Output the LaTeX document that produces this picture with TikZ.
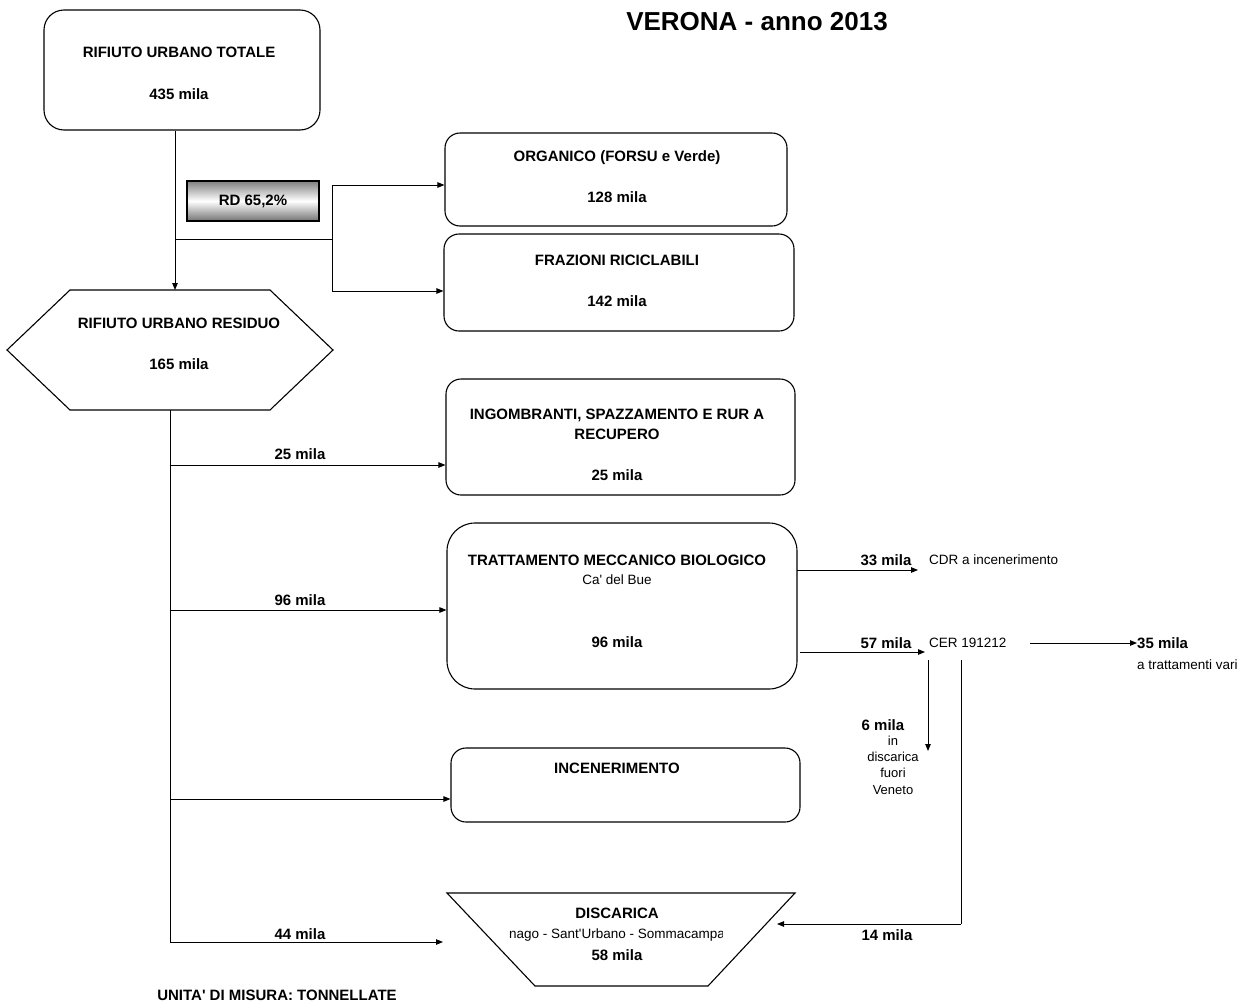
\documentclass[tikz,border=0pt]{standalone}
\usepackage{fontspec}
\setmainfont{Liberation Sans}[Ligatures=TeXOff]
\usetikzlibrary{arrows.meta,calc}
\begin{document}
\begin{tikzpicture}[x=1pt,y=-1pt,
 box/.style={draw,line width=1.1pt,rounded corners=#1,inner sep=0pt},
 box/.default=15pt,
 bt/.style={font=\fontsize{15}{18}\selectfont\bfseries,inner sep=0pt,anchor=center},
 st/.style={font=\fontsize{13.5}{16}\selectfont,inner sep=0pt},
 ln/.style={line width=0.9pt},
 arr/.style={ln,-{Triangle[length=7pt,width=5.5pt]}}]
\useasboundingbox (0,0) rectangle (1250,1007);

% title
\node[font=\fontsize{26}{30}\selectfont\bfseries,inner sep=0pt] (title) at (757,22) {VERONA - anno 2013};

% total
\node[box=20pt,minimum width=276pt,minimum height=120pt] (tot) at (182,70) {};
\node[bt] (totA) at (179,52) {RIFIUTO URBANO TOTALE};
\node[bt] (totB) at (179,94) {435 mila};

% RD box
\node[draw,line width=2pt,top color=black!50,bottom color=black!55,middle color=white,
      minimum width=132pt,minimum height=40pt,inner sep=0pt,font=\fontsize{15}{18}\selectfont\bfseries] (rd) at (253,201) {RD 65,2\%};

% organico / frazioni
\node[box,minimum width=342pt,minimum height=93pt] (org) at (616,179.5) {};
\node[bt] (orgA) at (617,158) {ORGANICO (FORSU e Verde)};
\node[bt] (orgB) at (617,197) {128 mila};
\node[box,minimum width=350pt,minimum height=97pt] (fra) at (619,282.5) {};
\node[bt] (fraA) at (617,260) {FRAZIONI RICICLABILI};
\node[bt] (fraB) at (617,301) {142 mila};

% hexagon residuo
\coordinate (hextop) at (175,290);
\coordinate (hexbot) at (170,410);
\draw[line width=1.1pt] (7,350) -- (70,290) -- (270,290) -- (333,350) -- (270,410) -- (70,410) -- cycle;
\node[bt] (resA) at (179,323) {RIFIUTO URBANO RESIDUO};
\node[bt] (resB) at (179,364) {165 mila};

% connectors top
\draw[arr] (tot.south -| hextop) -- (hextop);
\coordinate (j1) at (175,239);
\coordinate (j2) at (332,239);
\coordinate (b1) at (332,185);
\coordinate (b2) at (332,291);
\draw[ln] (j1) -- (j2);
\draw[ln] (b1) -- (b2);
\draw[arr] (b1) -- (org.west |- b1);
\draw[arr] (b2) -- (fra.west |- b2);

% ingombranti
\node[box,minimum width=349pt,minimum height=116pt] (ing) at (620.5,437) {};
\node[bt,align=center,font=\fontsize{15}{20}\selectfont\bfseries] (ingA) at (617,424) {INGOMBRANTI, SPAZZAMENTO E RUR A\\RECUPERO};
\node[bt] (ingB) at (617,475) {25 mila};

% TMB
\node[box=28pt,minimum width=350pt,minimum height=166pt] (tmb) at (622,606) {};
\node[bt] (tmbA) at (617,560) {TRATTAMENTO MECCANICO BIOLOGICO};
\node[st] (tmbB) at (617,580) {Ca' del Bue};
\node[bt] (tmbC) at (617,642) {96 mila};

% incenerimento
\node[box,minimum width=349pt,minimum height=74pt] (inc) at (625.5,785) {};
\node[bt] (incA) at (617,768) {INCENERIMENTO};

% discarica
\draw[line width=1.1pt] (447,893) -- (795,893) -- (708,986) -- (535,986) -- cycle;
\coordinate (discL) at (443,942);
\coordinate (discR) at (777,924);
\node[bt] (discA) at (617,913) {DISCARICA};
\begin{scope}
\clip (509,925) rectangle (722,946);
\node[st] (discB) at (617,935) {Legnago - Sant'Urbano - Sommacampagna};
\end{scope}
\node[bt] (discC) at (617,955) {58 mila};

% trunk and branches
\coordinate (tend) at (170,942);
\draw[ln] (hexbot) -- (tend);
\coordinate (r1) at (170,465);
\coordinate (r2) at (170,610);
\coordinate (r3) at (170,799);
\draw[arr] (r1) -- (ing.west |- r1);
\draw[arr] (r2) -- (tmb.west |- r2);
\draw[arr] (r3) -- (inc.west |- r3);
\draw[arr] (tend) -- (discL);
\node[bt] (l25) at (300,454) {25 mila};
\node[bt] (l96) at (300,600) {96 mila};
\node[bt] (l44) at (300,934) {44 mila};

% outputs of TMB
\node[st,anchor=west] (cdr) at (929,560) {CDR a incenerimento};
\node[st,anchor=west] (cer) at (929,643) {CER 191212};
\coordinate (o1) at (797,570);
\coordinate (o2) at (800,652);
\draw[arr] (o1) -- (918,570) coordinate (o1e);
\draw[arr] (o2) -- (925,652) coordinate (o2e);
\node[bt] (l33) at (886,560) {33 mila};
\node[bt] (l57) at (886,643) {57 mila};

\coordinate (c35s) at (1030,643);
\node[bt,anchor=west] (l35) at (1137,643) {35 mila};
\node[st,anchor=west] (vari) at (1137,665) {a trattamenti vari};
\draw[arr] (c35s) -- (l35.west);

\coordinate (d6s) at (928,660);
\coordinate (d6e) at (928,751);
\draw[arr] (d6s) -- (d6e);
\node[bt] (l6) at (883,725) {6 mila};
\node[st,align=center,font=\fontsize{13}{16.4}\selectfont] (fuori) at (893,765) {in\\discarica\\fuori\\Veneto};

\coordinate (d14s) at (961,660);
\coordinate (d14c) at (961,924);
\draw[ln] (d14s) -- (d14c);
\draw[arr] (d14c) -- (discR);
\node[bt] (l14) at (887,935) {14 mila};

\node[bt] (unit) at (277,995) {UNITA' DI MISURA: TONNELLATE};
\end{tikzpicture}
\end{document}
